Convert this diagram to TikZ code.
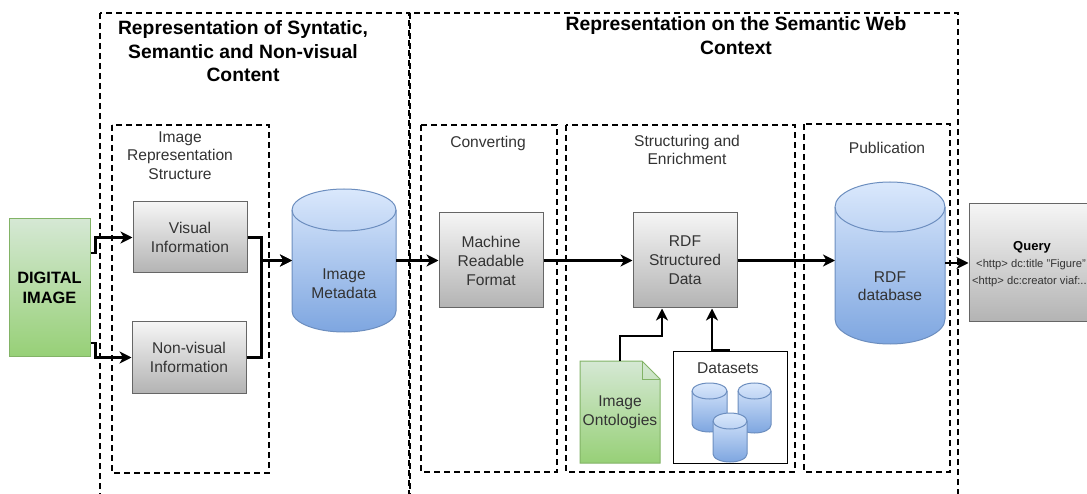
\documentclass[tikz,border=0pt]{standalone}
\usepackage{fontspec}
\setmainfont{Liberation Sans}
\usetikzlibrary{arrows.meta,calc}

\definecolor{grayline}{HTML}{666666}
\definecolor{graytop}{HTML}{F5F5F5}
\definecolor{graybot}{HTML}{B3B3B3}
\definecolor{txtgray}{HTML}{333333}
\definecolor{greenline}{HTML}{82B366}
\definecolor{greentop}{HTML}{D5E8D4}
\definecolor{greenbot}{HTML}{97D077}
\definecolor{blueline}{HTML}{6C8EBF}
\definecolor{bluetop}{HTML}{DAE8FC}
\definecolor{bluebot}{HTML}{7EA6E0}

\newcommand\fsz[2]{\fontsize{#1}{#2}\selectfont}

% database cylinder: left, top, right, bottom, half height of the end ellipse
\newcommand\dbcyl[5]{%
  \pgfmathsetmacro\cylrx{(#3-#1)/2}%
  \path[cylbody] (#1,#2+#5)
    arc[start angle=180,end angle=0,x radius=\cylrx pt,y radius=#5pt]
    -- (#3,#4-#5)
    arc[start angle=0,end angle=-180,x radius=\cylrx pt,y radius=#5pt]
    -- cycle;
  \draw[cylrim] (#1,#2+#5)
    arc[start angle=180,end angle=360,x radius=\cylrx pt,y radius=#5pt];
}

\begin{document}
\begin{tikzpicture}[x=1pt,y=-1pt,
  zone/.style={draw=black,line width=2.2pt,dash pattern=on 6pt off 4pt},
  graybox/.style={draw=grayline,line width=1pt,top color=graytop,bottom color=graybot,
    text=txtgray,font=\fsz{15.6}{19},align=center,inner sep=0pt},
  label/.style={text=txtgray,font=\fsz{15.6}{18.5},align=center,inner sep=0pt},
  title/.style={text=black,font=\bfseries\fsz{19.3}{23.5},align=center,inner sep=0pt},
  shapebox/.style={inner sep=0pt,outer sep=0pt},
  cylbody/.style={draw=blueline,line width=1pt,top color=bluetop,bottom color=bluebot},
  cylrim/.style={draw=blueline,line width=1pt},
  arr/.style={line width=2.3pt,-{Stealth[length=12pt,width=12pt,inset=3.5pt]}},
]
\useasboundingbox (0,0) rectangle (1087,494);
\clip (0,0) rectangle (1087,494);
\fill[white] (0,0) rectangle (1087,494);

% dashed zones
\draw[zone] (100,13) rectangle (409,530);
\draw[zone] (410,13) rectangle (958,530);
\draw[zone] (112,125) rectangle (269,473);
\draw[zone] (421,125) rectangle (557,472);
\draw[zone] (566,125) rectangle (795,472);
\draw[zone] (804,124) rectangle (950,472);

% zone titles
\node[title] (t1) at (243,51.5) {Representation of Syntatic,\\Semantic and Non-visual\\Content};
\node[title,font=\bfseries\fsz{19.3}{24.5}] (t2) at (736,35.5) {Representation on the Semantic Web\\Context};
\node[label] (lirs) at (180,155.5) {Image\\Representation\\Structure};
\node[label] (lconv) at (488,143) {Converting};
\node[label,font=\fsz{15.6}{18}] (lstr) at (687,150) {Structuring and\\Enrichment};
\node[label] (lpub) at (887,148) {Publication};

% source image
\node[draw=greenline,line width=1pt,top color=greentop,bottom color=greenbot,
  font=\bfseries\fsz{16.4}{20},align=center,inner sep=0pt,
  minimum width=81pt,minimum height=137pt] (di) at (49.5,287.5) {DIGITAL\\IMAGE};

% representation structure
\node[graybox,minimum width=114pt,minimum height=71pt] (vis) at (190,237.5) {Visual\\Information};
\node[graybox,minimum width=114pt,minimum height=71pt] (nvis) at (189,357.5) {Non-visual\\Information};

% metadata store
\dbcyl{292}{189}{396}{332}{21}
\node[shapebox,minimum width=104pt,minimum height=143pt] (meta) at (344,260.5) {};
\node[label] (metatxt) at (344,283.5) {Image\\Metadata};

% semantic web pipeline
\node[graybox,minimum width=104pt,minimum height=95pt] (mrf) at (491,260.5) {Machine\\Readable\\Format};
\node[graybox,minimum width=104pt,minimum height=95pt] (rdf) at (685,260.5) {RDF\\Structured\\Data};

\dbcyl{835}{182}{945}{344}{25}
\node[shapebox,minimum width=110pt,minimum height=162pt] (rdfdb) at (890,263) {};
\node[label] (rdfdbtxt) at (890,286) {RDF\\database};

% query result
\node[graybox,minimum width=126pt,minimum height=118pt] (query) at (1032,263) {};
\node[font=\bfseries\fsz{13}{15},inner sep=0pt] (qt) at (1032,247) {Query};
\node[font=\fsz{11.2}{13},text=txtgray,inner sep=0pt] (q1) at (1031,265) {<http> dc:title "Figure"};
\node[font=\fsz{11.2}{13},text=txtgray,inner sep=0pt] (q2) at (1031,282) {<http> dc:creator viaf:...};

% ontologies document
\path[draw=greenline,line width=1pt,top color=greentop,bottom color=greenbot]
  (580,361) -- (642,361) -- (660,379) -- (660,463) -- (580,463) -- cycle;
\draw[greenline,line width=1pt] (642,361) -- (642,379) -- (660,379);
\node[shapebox,minimum width=80pt,minimum height=102pt,label,font=\fsz{15.6}{19}] (onto) at (620,412) {Image\\Ontologies};

% datasets group
\node[draw=black,line width=1pt,fill=white,minimum width=114pt,minimum height=112pt,inner sep=0pt] (ds) at (730,407) {};
\node[label] (dstxt) at (728,368) {Datasets};
\dbcyl{692}{383}{727}{432}{8}
\dbcyl{738}{383}{771}{433}{8}
\dbcyl{713}{413}{747}{462}{8}

% connectors
\draw[arr] ([yshift=34.5pt]di.east) -- ++(5,0) |- (vis.west);
\draw[arr] ([yshift=-55.5pt]di.east) -- ++(5,0) |- (nvis.west);
\draw[arr] (vis.east) -- ++(14,0) |- (meta.west);
\draw[arr] (nvis.east) -- ++(15,0) |- (meta.west);
\draw[arr] (meta.east) -- (mrf.west);
\draw[arr] (mrf.east) -- (rdf.west);
\draw[arr] (rdf.east) -- (rdf.east -| rdfdb.west);
\draw[arr] (rdfdb.east) -- (rdfdb.east -| query.west);
\draw[arr] (onto.north) -- ++(0,-25) -| ([xshift=-23pt]rdf.south);
\draw[arr] (ds.north) -- ([xshift=-18pt]ds.north) -- ([xshift=-18pt]ds.north |- rdf.south);
\end{tikzpicture}
\end{document}
